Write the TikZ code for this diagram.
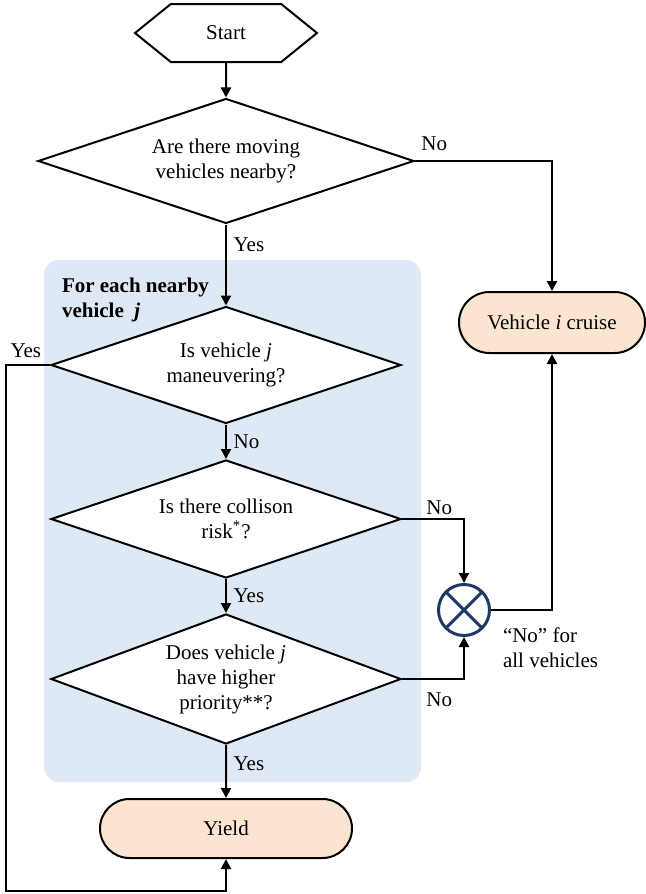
\documentclass[tikz,border=0pt]{standalone}
\usepackage{fontspec}
\setmainfont{Liberation Serif}
\usetikzlibrary{shapes.geometric, shapes.misc, shapes.symbols, arrows.meta}

\definecolor{loopblue}{HTML}{DEE9F5}
\definecolor{endpeach}{HTML}{FBE4D0}
\definecolor{joinnavy}{HTML}{203864}

\begin{document}
\begin{tikzpicture} [
						x=0.5pt, y=-0.5pt,
						font=\fontsize{10.5}{12.5}\selectfont,
						line width=1pt,
						>={Triangle[length=5pt,width=5pt]},
						every node/.style={align=center},
						startnode/.style={draw, signal, signal to=east and west, signal pointer angle=78, minimum width=91pt, minimum height=29pt, inner sep=0pt},
						decision/.style={draw, diamond, aspect=2.7, fill=white, inner sep=0pt},
						endnode/.style={draw, rounded rectangle, fill=endpeach, inner sep=0pt},
						joinnode/.style={draw=joinnavy, circle, line width=1.5pt, minimum size=25.5pt, inner sep=0pt,
							path picture={\draw[joinnavy, line width=1.5pt] (path picture bounding box.north west) -- (path picture bounding box.south east) (path picture bounding box.north east) -- (path picture bounding box.south west);}}
					]
\useasboundingbox (0,0) rectangle (645,894);

% loop over nearby vehicles
\fill[loopblue, rounded corners=7.5pt] (44,260) rectangle (421,782);

\node (start) [startnode] at (226,33) {Start};
\node (d1) [decision, below of=start, node distance=64pt, minimum width=188pt, minimum height=62.5pt] {Are there moving\\vehicles nearby?};
\node (d2) [decision, below of=d1, node distance=102pt, minimum width=175pt, minimum height=58.5pt] {Is vehicle \textit{j}\\maneuvering?};
\node (d3) [decision, below of=d2, node distance=77pt, minimum width=175pt, minimum height=59pt] {Is there collison\\risk\textsuperscript{*}?};
\node (d4) [decision, below of=d3, node distance=80pt, minimum width=175pt, minimum height=65pt] {Does vehicle \textit{j}\\have higher\\priority**?};
\node (yield) [endnode, below of=d4, node distance=74.75pt, minimum width=126pt, minimum height=29.5pt] {Yield};
\node (cruise) [endnode, minimum width=93pt, minimum height=30.5pt] at (552,322.5) {Vehicle \textit{i} cruise};
\node (junc) [joinnode] at (464,610) {};
\node (loop) [anchor=west, inner sep=0pt, align=left, font=\fontsize{10.5}{12.5}\selectfont\bfseries] at (61,299.5) {For each nearby\\vehicle~ \textit{j}};
\node (note) [anchor=west, inner sep=0pt, align=left] at (502,647.5) {“No” for\\all vehicles};

\draw[->] (start) -- (d1);
\draw[->] (d1.east) -| node[pos=0.07, above, yshift=1.5pt] {No} (cruise.north);
\draw[->] (d1) -- node[pos=0.25, right] {Yes} (d2);
\draw[->] (d2) -- node[right] {No} (d3);
\draw[->] (d3) -- node[right] {Yes} (d4);
\draw[->] (d4) -- node[pos=0.35, right] {Yes} (yield);
\draw[->] (d2.west) -- node[pos=0.55, above] {Yes} ++(-22pt,0) |- ([yshift=-16pt]yield.south) -- (yield.south);
\draw[->] (d3.east) -| node[pos=0.3, above, inner sep=1.5pt] {No} (junc.north);
\draw[->] (d4.east) -| node[pos=0.3, below, yshift=-3pt] {No} (junc.south);
\draw[->] (junc.east) -| (cruise.south);
\end{tikzpicture}
\end{document}
